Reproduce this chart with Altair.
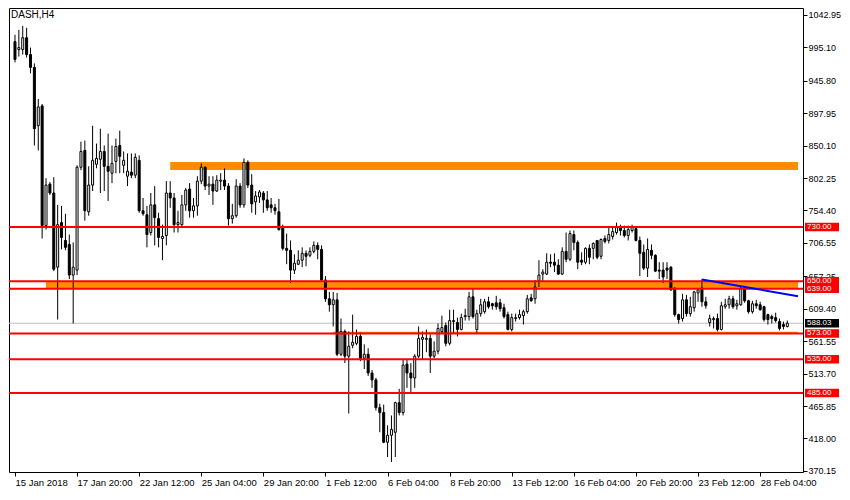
import altair as alt
import pandas as pd

# ---------------- data (DASH, H4) ----------------
opens = [
    1003.5, 991.9, 991.9, 1009.3, 984.5, 965.6, 879.5, 908.7, 732.1, 793.3,
    780.2, 670.8, 736.5, 710.2, 704.3, 659.1, 666.4, 818.2, 843.0, 752.5,
    791.9, 822.6, 829.9, 841.5, 819.6, 809.4, 826.9, 850.3, 821.1, 805.0,
    810.9, 806.5, 828.4, 754.0, 748.1, 721.9, 762.7, 742.3, 713.1, 717.5,
    780.2, 772.9, 733.5, 733.5, 762.7, 786.0, 754.0, 761.2, 797.7, 818.2,
    790.4, 793.3, 783.1, 797.7, 799.2, 790.4, 742.3, 746.7, 790.4, 762.7,
    825.5, 791.9, 767.1, 774.4, 780.2, 770.0, 762.7, 758.4, 752.5, 729.2,
    698.5, 695.6, 666.4, 675.1, 681.0, 691.2, 688.3, 694.1, 702.9, 697.0,
    651.8, 624.1, 615.3, 622.6, 542.3, 575.9, 539.4, 555.5, 558.4, 568.6,
    536.5, 542.3, 514.6, 504.4, 463.5, 456.2, 412.4, 422.7, 427.1, 470.8,
    456.2, 527.7, 514.6, 507.3, 539.4, 564.2, 564.2, 565.7, 539.4, 546.7,
    575.9, 584.7, 558.4, 590.5, 589.0, 578.8, 597.8, 597.8, 627.0, 578.8,
    602.2, 605.1, 619.7, 616.8, 618.2, 618.2, 610.9, 600.7, 578.8, 594.9,
    596.3, 599.3, 605.1, 625.5, 624.1, 650.3, 660.6, 660.6, 678.1, 678.1,
    673.7, 660.6, 694.1, 682.4, 718.9, 707.3, 681.0, 678.1, 698.5, 698.5,
    710.2, 686.8, 713.1, 710.2, 716.0, 721.9, 729.2, 724.8, 717.5, 724.8,
    727.7, 710.2, 692.7, 669.3, 695.6, 688.3, 666.4, 666.4, 669.3, 670.8,
    638.7, 600.7, 594.9, 622.6, 602.2, 610.9, 632.8, 640.1, 619.7, 589.0,
    593.4, 594.9, 578.8, 612.4, 615.3, 624.1, 613.8, 615.3, 638.7, 621.2,
    605.1, 616.8, 615.3, 612.4, 600.7, 597.8, 596.3, 590.5, 586.1, 583.2,
]
highs = [
    1013.7, 1021.0, 1026.9, 1024.0, 994.8, 971.4, 918.9, 911.6, 802.1, 796.3,
    803.6, 762.7, 761.2, 749.6, 718.9, 707.3, 821.1, 856.1, 857.6, 819.6,
    879.5, 853.2, 875.1, 850.3, 867.8, 850.3, 860.5, 872.2, 841.5, 838.6,
    838.6, 838.6, 835.7, 772.9, 761.2, 780.2, 790.4, 751.1, 733.5, 797.7,
    797.7, 780.2, 754.0, 777.3, 787.5, 794.8, 772.9, 805.0, 824.0, 819.6,
    805.0, 805.0, 806.5, 809.4, 816.7, 794.8, 764.2, 800.6, 794.8, 831.3,
    828.4, 808.0, 783.1, 784.6, 783.1, 783.1, 772.9, 764.2, 771.5, 733.5,
    720.4, 710.2, 689.7, 695.6, 700.0, 695.6, 700.0, 708.7, 707.3, 702.9,
    657.6, 634.3, 634.3, 632.8, 594.9, 578.8, 575.9, 600.7, 578.8, 574.4,
    556.9, 551.1, 519.0, 507.3, 469.4, 467.9, 437.3, 451.9, 472.3, 491.2,
    535.0, 535.0, 529.2, 542.3, 583.2, 575.9, 578.8, 571.5, 561.3, 587.6,
    599.3, 589.0, 608.0, 608.0, 596.3, 602.2, 609.5, 634.3, 638.7, 608.0,
    624.1, 624.1, 627.0, 618.2, 628.5, 624.1, 616.8, 605.1, 602.2, 602.2,
    608.0, 608.0, 629.9, 631.4, 651.8, 681.0, 667.8, 691.2, 689.7, 691.2,
    682.4, 700.0, 721.9, 724.8, 724.8, 710.2, 692.7, 700.0, 704.3, 707.3,
    710.2, 713.1, 717.5, 730.6, 730.6, 736.5, 733.5, 732.1, 732.1, 733.5,
    729.2, 716.0, 704.3, 713.1, 704.3, 689.7, 678.1, 678.1, 678.1, 672.2,
    641.6, 602.2, 631.4, 629.9, 627.0, 635.8, 640.1, 653.2, 627.0, 600.7,
    597.8, 602.2, 619.7, 624.1, 628.5, 628.5, 622.6, 643.0, 641.6, 622.6,
    621.2, 622.6, 619.7, 613.8, 602.2, 600.7, 603.6, 594.9, 590.5, 592.0,
]
lows = [
    972.9, 981.6, 984.5, 980.2, 956.8, 850.3, 843.0, 713.1, 726.2, 777.3,
    664.9, 593.4, 697.0, 695.6, 653.2, 587.6, 659.1, 813.8, 739.4, 746.7,
    783.1, 816.7, 780.2, 783.1, 768.5, 794.8, 809.4, 809.4, 809.4, 790.4,
    802.1, 802.1, 751.1, 746.7, 700.0, 717.5, 702.9, 700.0, 681.0, 702.9,
    758.4, 721.9, 721.9, 729.2, 754.0, 743.8, 743.8, 746.7, 793.3, 784.6,
    777.3, 762.7, 781.7, 784.6, 784.6, 732.1, 735.0, 743.8, 758.4, 758.4,
    787.5, 751.1, 748.1, 765.6, 751.1, 754.0, 751.1, 748.1, 724.8, 695.6,
    675.1, 647.4, 660.6, 673.7, 670.8, 672.2, 685.4, 691.2, 682.4, 648.9,
    619.7, 605.1, 583.2, 539.4, 539.4, 529.2, 454.8, 551.1, 555.5, 532.1,
    520.5, 510.2, 492.7, 459.2, 427.1, 411.0, 390.6, 383.3, 390.6, 451.9,
    451.9, 492.7, 484.0, 492.7, 536.5, 535.0, 545.3, 514.6, 536.5, 542.3,
    573.0, 554.0, 555.5, 573.0, 568.6, 577.4, 592.0, 592.0, 594.9, 573.0,
    597.8, 602.2, 609.5, 608.0, 608.0, 605.1, 594.9, 577.4, 575.9, 590.5,
    593.4, 586.1, 602.2, 619.7, 616.8, 641.6, 648.9, 659.1, 670.8, 663.5,
    659.1, 659.1, 678.1, 679.5, 695.6, 667.8, 673.7, 675.1, 675.1, 682.4,
    682.4, 682.4, 705.8, 705.8, 711.6, 718.9, 717.5, 714.6, 710.2, 721.9,
    708.7, 657.6, 666.4, 656.2, 682.4, 663.5, 653.2, 647.4, 653.2, 635.8,
    597.8, 587.6, 590.5, 597.8, 597.8, 605.1, 619.7, 612.4, 609.5, 583.2,
    580.3, 575.9, 577.4, 609.5, 609.5, 609.5, 608.0, 613.8, 618.2, 602.2,
    602.2, 609.5, 606.6, 590.5, 586.1, 587.6, 589.0, 577.4, 578.8, 581.7,
]
closes = [
    977.3, 994.8, 1009.3, 984.5, 965.6, 875.1, 907.2, 732.1, 791.9, 780.2,
    667.8, 733.5, 714.6, 700.0, 659.1, 670.8, 818.2, 841.5, 754.0, 791.9,
    828.4, 831.3, 841.5, 819.6, 812.3, 824.0, 848.8, 834.3, 828.4, 812.3,
    806.5, 832.8, 754.0, 749.6, 718.9, 762.7, 743.8, 714.6, 716.0, 780.2,
    772.9, 733.5, 736.5, 762.7, 784.6, 754.0, 761.2, 797.7, 818.2, 790.4,
    793.3, 783.1, 799.2, 799.2, 790.4, 742.3, 746.7, 790.4, 762.7, 825.5,
    791.9, 764.2, 775.8, 781.7, 770.0, 758.4, 758.4, 754.0, 726.2, 698.5,
    695.6, 666.4, 676.6, 681.0, 691.2, 686.8, 694.1, 702.9, 697.0, 651.8,
    624.1, 615.3, 622.6, 542.3, 575.9, 539.4, 554.0, 559.9, 568.6, 536.5,
    542.3, 514.6, 504.4, 463.5, 456.2, 412.4, 422.7, 431.4, 470.8, 456.2,
    526.3, 514.6, 507.3, 539.4, 565.7, 567.1, 565.7, 539.4, 546.7, 580.3,
    581.7, 558.4, 592.0, 592.0, 578.8, 596.3, 599.3, 627.0, 597.8, 602.2,
    615.3, 619.7, 612.4, 613.8, 612.4, 609.5, 597.8, 578.8, 596.3, 596.3,
    600.7, 605.1, 624.1, 621.2, 641.6, 659.1, 663.5, 678.1, 676.6, 673.7,
    660.6, 694.1, 682.4, 720.4, 707.3, 678.1, 678.1, 698.5, 685.4, 705.8,
    685.4, 711.6, 708.7, 718.9, 723.3, 729.2, 724.8, 717.5, 726.2, 729.2,
    710.2, 691.2, 669.3, 697.0, 688.3, 664.9, 664.9, 656.2, 666.4, 637.2,
    600.7, 593.4, 622.6, 602.2, 612.4, 634.3, 637.2, 619.7, 613.8, 594.9,
    594.9, 578.8, 613.8, 615.3, 624.1, 612.4, 616.8, 638.7, 621.2, 605.1,
    616.8, 613.8, 608.0, 593.4, 593.4, 594.9, 592.0, 580.3, 583.2, 588.03,
]

# time axis: every 16th H4 bar is labelled
tick_idx = [0, 16, 32, 48, 64, 80, 96, 112, 128, 144, 160, 176, 192]
tick_labels = ["15 Jan 2018", "17 Jan 20:00", "22 Jan 12:00", "25 Jan 04:00",
               "29 Jan 20:00", "1 Feb 12:00", "6 Feb 04:00", "8 Feb 20:00",
               "13 Feb 12:00", "16 Feb 04:00", "20 Feb 20:00", "23 Feb 12:00",
               "28 Feb 04:00"]
price_ticks = [370.15, 418.00, 465.85, 513.70, 561.55, 609.40, 657.25, 706.55,
               754.40, 802.25, 850.10, 897.95, 945.80, 995.10, 1042.95]

# horizontal levels and zones
levels = [730.0, 650.0, 639.0, 573.0, 535.0, 485.0]
level_label_shift = [0, -2.0, 0.5, -1.5, 0, 0]
current_price = 588.03
current_label_shift = -1.5
zone_start = [8, 40, 82]
zone_end = [201.75, 201.75, 201.75]
zone_lo = [639.0, 814.0, 573.0]
zone_hi = [650.0, 826.0, 575.5]
trend_x = [177, 201.75]
trend_y = [652.5, 628.0]

X_DOMAIN = [-0.25, 201.75]
Y_DOMAIN = [368.5, 1053.2]
FONT = "Liberation Sans"

# ---------------- frames ----------------
n = len(closes)
candles = pd.DataFrame({
    "idx": list(range(n)), "o": opens, "h": highs, "l": lows, "c": closes,
})
candles["up"] = candles["c"] >= candles["o"]

zones = pd.DataFrame({"x": zone_start, "x2": zone_end, "lo": zone_lo, "hi": zone_hi})
lv = pd.DataFrame({"p": levels})
cur = pd.DataFrame({"p": [current_price]})
trend = pd.DataFrame({"x": trend_x, "y": trend_y})
box_prices = levels + [current_price]
box_df = pd.DataFrame({
    "p": box_prices,
    "lab": [f"{v:.2f}" for v in box_prices],
    "bg": ["#FF0000"] * len(levels) + ["#000000"],
    "off": level_label_shift + [current_label_shift],
})

label_expr = ("[" + ",".join(f"'{s}'" for s in tick_labels) + "][indexof(["
              + ",".join(str(v) for v in tick_idx) + "], datum.value)]")

xscale = alt.Scale(domain=X_DOMAIN, nice=False, zero=False)
yscale = alt.Scale(domain=Y_DOMAIN, nice=False, zero=False)

xaxis = alt.Axis(values=tick_idx, labelExpr=label_expr, orient="bottom",
                 title=None, grid=False, domain=False, tickSize=4,
                 tickColor="black", labelAlign="left", labelAngle=0,
                 labelPadding=1, labelFont=FONT, labelFontSize=9.5,
                 labelColor="black", labelOverlap=False, labelFlush=False)
yaxis = alt.Axis(values=price_ticks, format=".2f", orient="right", title=None,
                 grid=False, domain=False, tickSize=4, tickColor="black",
                 labelPadding=1, labelFont=FONT, labelFontSize=9,
                 labelColor="black", labelOverlap=False, labelAlign="left",
                 labelBaseline="middle")


def X(field):
    return alt.X(field, scale=xscale, axis=xaxis)


def Y(field):
    return alt.Y(field, scale=yscale, axis=yaxis)


base = alt.Chart(candles)

zone_layer = alt.Chart(zones).mark_rect(color="#FF8C00", clip=True).encode(
    x=X("x:Q"), x2="x2:Q", y=Y("lo:Q"), y2="hi:Q",
)

cur_layer = alt.Chart(cur).mark_rule(color="#C0C0C0", strokeWidth=1).encode(
    y=Y("p:Q")
)

wicks = base.mark_rule(color="black", strokeWidth=1, clip=True).encode(
    x=X("idx:Q"), y=Y("l:Q"), y2="h:Q",
)
bodies = base.mark_bar(width=2, stroke="black", strokeWidth=1, clip=True).encode(
    x=X("idx:Q"), y=Y("o:Q"), y2="c:Q",
    fill=alt.condition("datum.up", alt.value("white"), alt.value("black")),
)

level_layer = alt.Chart(lv).mark_rule(color="#FF0000", strokeWidth=2).encode(
    y=Y("p:Q")
)

trend_layer = alt.Chart(trend).mark_line(color="#0000FF", strokeWidth=2, clip=True).encode(
    x=X("x:Q"), y=Y("y:Q"),
)

boxes = alt.Chart(box_df).mark_tick(size=34, thickness=8.5, opacity=1).encode(
    x=alt.value(813),
    y=Y("p:Q"),
    yOffset=alt.YOffset("off:Q", scale=None),
    color=alt.Color("bg:N", scale=None),
)
box_text = alt.Chart(box_df).mark_text(
    align="left", baseline="middle", color="white", font=FONT, fontSize=8
).encode(
    x=alt.value(798),
    y=Y("p:Q"),
    yOffset=alt.YOffset("off:Q", scale=None),
    text="lab:N",
)

title_text = alt.Chart(pd.DataFrame({"t": ["DASH,H4"]})).mark_text(
    align="left", baseline="top", font=FONT, fontSize=10, color="black"
).encode(x=alt.value(2), y=alt.value(2), text="t:N")

chart = alt.layer(
    zone_layer, cur_layer, wicks, bodies, level_layer, trend_layer,
    boxes, box_text, title_text,
).properties(
    width=794, height=464, padding=0, background="white"
).configure_view(
    stroke="black", strokeWidth=1
)

chart.save("out.html", embed_options={"renderer": "svg", "actions": False})
